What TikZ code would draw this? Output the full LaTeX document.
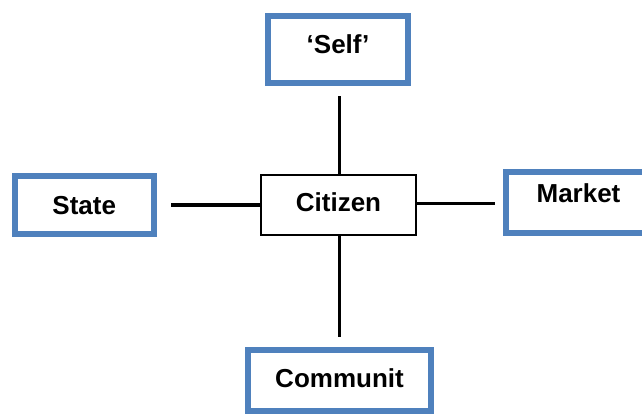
\documentclass[tikz,border=0pt]{standalone}
\usepackage{fontspec}
\setmainfont{Liberation Sans}
\usepackage{tikz}
\usetikzlibrary{positioning}
\definecolor{boxblue}{HTML}{4F81BD}
\tikzset{
  mybluebox/.style={
    draw=boxblue,
    fill=white,
    shape=rectangle,
    line width=4.5pt,
    align=center,
    inner sep=0pt,
    text height=14pt,
    text depth=0pt,
    font=\fontsize{19.5}{23}\selectfont\bfseries
  },
  mycenterbox/.style={
    draw=black,
    fill=white,
    shape=rectangle,
    line width=1pt,
    align=center,
    inner sep=0pt,
    text height=14pt,
    text depth=5pt,
    minimum width=116.25pt,
    minimum height=45pt,
    font=\fontsize{19.5}{23}\selectfont\bfseries
  },
  myline/.style={
    draw=black,
    line width=2.3pt,
  },
}
\begin{document}
\begin{tikzpicture}[x=0.75pt, y=-0.75pt]
    \useasboundingbox (0, 0) rectangle (642, 414);

    \node [mycenterbox] (citizen) at (338.5, 205) {Citizen};

    \node [mybluebox, minimum width=105pt, minimum height=50.5pt, text depth=7.5pt] (self) at (338, 49.3) {‘Self’};

    \node [mybluebox, minimum width=104.25pt, minimum height=43.7pt] (state) at (84.2, 204.8) {State};

    \node [mybluebox, minimum width=108.75pt, minimum height=45.75pt, text depth=14pt] (market) at (578.5, 202.5) {Market};

    \node [mybluebox, minimum width=137.25pt, minimum height=45.75pt, text depth=3.75pt] (community) at (339.5, 380.5) {Communit};

    \draw [myline, shorten >=7.5pt] ([xshift=1pt]citizen.north) -- ([xshift=1pt]citizen.north |- self.south);
    \draw [myline, shorten >=7.5pt] ([xshift=0.5pt]citizen.south) -- ([xshift=0.5pt]citizen.south |- community.north);
    \draw [myline, shorten >=11pt] (citizen.west) -- (citizen.west -| state.east);
    \draw [myline, shorten >=6pt] ([yshift=1pt]citizen.east) -- ([yshift=1pt]citizen.east -| market.west);

  \end{tikzpicture}
\end{document}
